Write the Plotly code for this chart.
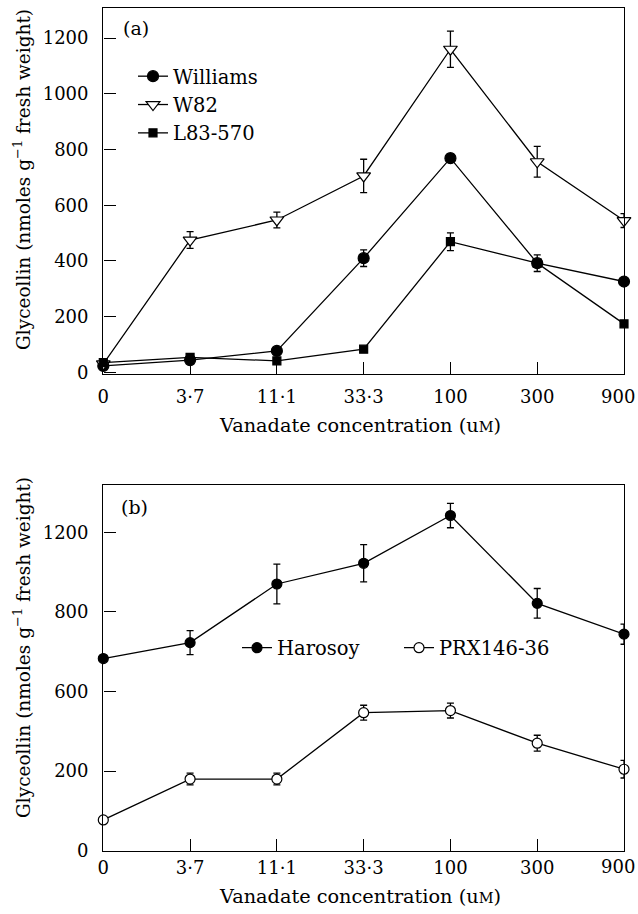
import plotly.graph_objects as go

# ---------------- data ----------------
conc = ["0", "3·7", "11·1", "33·3", "100", "300", "900"]

williams = [23, 44, 77, 410, 769, 392, 326]
williams_err = [0, 0, 0, 30, 15, 30, 0]
w82 = [30, 475, 547, 705, 1160, 756, 545]
w82_err = [0, 30, 28, 60, 65, 55, 25]
l83 = [35, 54, 41, 83, 469, 392, 174]
l83_err = [0, 0, 0, 0, 32, 0, 0]

harosoy = [724, 784, 1005, 1083, 1263, 932, 816]
harosoy_err = [0, 45, 75, 70, 46, 56, 38]
prx = [116, 270, 270, 520, 528, 405, 307]
prx_err = [0, 22, 22, 28, 28, 30, 33]

yticks_a = [0, 200, 400, 600, 800, 1000, 1200]
yticklabels_a = ["0", "200", "400", "600", "800", "1000", "1200"]
yticks_b = [0, 300, 600, 900, 1200]
yticklabels_b = ["0", "200", "600", "800", "1200"]  # as printed

FONT = "DejaVu Serif"
FS = 19
TFS = 18
W, H = 638, 914


def px_x(p):
    return p / W


def px_y(p):
    return 1 - p / H


fig = go.Figure()


def add(x, y, err, name, symbol, fill, size, xa, ya, legend):
    fig.add_trace(go.Scatter(
        x=x, y=y, name=name, mode="lines+markers",
        xaxis=xa, yaxis=ya, legend=legend, cliponaxis=False,
        line=dict(color="black", width=1.3),
        marker=dict(symbol=symbol, size=size, color=fill,
                    line=dict(color="black", width=1.2)),
        error_y=dict(type="data", array=err, visible=True,
                     color="black", thickness=1.3, width=3.5),
    ))


add(conc, williams, williams_err, "Williams", "circle", "black", 11, "x", "y", "legend")
add(conc, w82, w82_err, "W82", "triangle-down", "white", 12, "x", "y", "legend")
add(conc, l83, l83_err, "L83-570", "square", "black", 8, "x", "y", "legend")
add(conc, harosoy, harosoy_err, "Harosoy", "circle", "black", 10, "x2", "y2", "legend2")
add(conc, prx, prx_err, "PRX146-36", "circle", "white", 10, "x2", "y2", "legend3")

axis_common = dict(
    showline=True, linecolor="black", linewidth=1.4, mirror=True,
    ticks="inside", ticklen=12, tickwidth=1.2, tickcolor="black",
    showgrid=False, zeroline=False, automargin=False,
    tickfont=dict(family=FONT, size=TFS, color="black"),
)

# the last category label is drawn as a separate text (shifted left to stay
# inside the page, as in the reference)
conc_ticktext = conc[:-1] + [""]

xdom = [px_x(103.3), px_x(624)]
xaxis_common = dict(type="category", range=[0, 6], tickmode="array",
                    tickvals=conc, ticktext=conc_ticktext, **axis_common)
fig.update_layout(
    width=W, height=H, autosize=False,
    margin=dict(l=0, r=0, t=0, b=0, autoexpand=False),
    paper_bgcolor="white", plot_bgcolor="white",
    font=dict(family=FONT, size=FS, color="black"),
    xaxis=dict(domain=xdom, anchor="y", ticklabelstandoff=6, **xaxis_common),
    yaxis=dict(domain=[px_y(374), px_y(8.3)], anchor="x", range=[-6, 1307],
               tickvals=yticks_a, ticktext=yticklabels_a,
               ticklabelstandoff=10, **axis_common),
    xaxis2=dict(domain=xdom, anchor="y2", ticklabelstandoff=0, **xaxis_common),
    yaxis2=dict(domain=[px_y(850.7), px_y(485)], anchor="x2", range=[0, 1378],
                tickvals=yticks_b, ticktext=yticklabels_b,
                ticklabelstandoff=10, **axis_common),
    legend=dict(x=px_x(133), y=px_y(57), xanchor="left", yanchor="top",
                bgcolor="rgba(0,0,0,0)", font=dict(family=FONT, size=19.5),
                tracegroupgap=0, itemsizing="trace"),
    legend2=dict(x=px_x(237), y=px_y(648), xanchor="left", yanchor="middle",
                 bgcolor="rgba(0,0,0,0)", font=dict(family=FONT, size=19.5)),
    legend3=dict(x=px_x(399), y=px_y(648), xanchor="left", yanchor="middle",
                 bgcolor="rgba(0,0,0,0)", font=dict(family=FONT, size=19.5)),
    showlegend=True,
)

ytitle = "Glyceollin (nmoles g<sup>−1</sup> fresh weight)"
xtitle = "Vanadate concentration (u<span style='font-size:14.5px'>M</span>)"
ann = [
    dict(text="(a)", x=px_x(136), y=px_y(28), size=FS),
    dict(text="(b)", x=px_x(134.5), y=px_y(507), size=FS),
    dict(text=conc[-1], x=px_x(618), y=px_y(396), size=TFS),
    dict(text=conc[-1], x=px_x(618), y=px_y(866.5), size=TFS),
    dict(text=xtitle, x=px_x(360), y=px_y(425), size=19.3),
    dict(text=xtitle, x=px_x(360), y=px_y(896), size=19.3),
    dict(text=ytitle, x=px_x(22), y=px_y(180), textangle=-90, size=18.5),
    dict(text=ytitle, x=px_x(22), y=px_y(648), textangle=-90, size=18.5),
]
for a in ann:
    s = a.pop("size")
    fig.add_annotation(xref="paper", yref="paper", showarrow=False,
                       xanchor="center", yanchor="middle",
                       font=dict(family=FONT, size=s, color="black"), **a)

fig.write_html(
    "out.html",
    config={"responsive": False},
    post_script="document.body.style.margin='0';"
                "document.documentElement.style.overflow='hidden';",
)
